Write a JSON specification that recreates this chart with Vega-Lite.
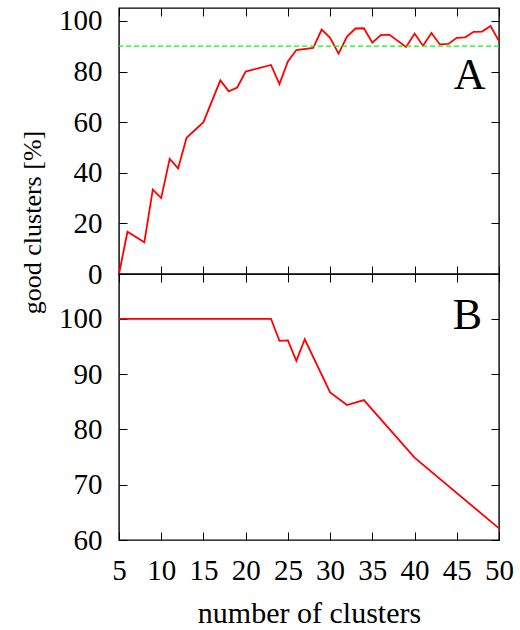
{
  "$schema": "https://vega.github.io/schema/vega-lite/v6.json",
  "background": "white",
  "padding": {"left": 18, "top": 6, "right": 5, "bottom": 0},
  "spacing": 0,
  "bounds": "flush",
  "config": {
    "view": {"stroke": "black", "strokeWidth": 1.4},
    "font": "Liberation Serif",
    "axis": {
      "domain": false,
      "grid": false,
      "tickColor": "black",
      "tickWidth": 1,
      "tickSize": -8,
      "labelFlush": false,
      "labelOverlap": false,
      "labelFont": "Liberation Serif",
      "labelFontSize": 29,
      "labelColor": "black",
      "titleFont": "Liberation Serif",
      "titleFontSize": 30,
      "titleFontWeight": "normal",
      "titleColor": "black"
    }
  },
  "vconcat": [
    {
      "width": 380,
      "height": 266,
      "data": {
        "values": [
          {"n": 5, "pct": 0}, {"n": 6, "pct": 16.7}, {"n": 8, "pct": 12.5},
          {"n": 9, "pct": 33.3}, {"n": 10, "pct": 30}, {"n": 11, "pct": 45.5},
          {"n": 12, "pct": 41.7}, {"n": 13, "pct": 53.8}, {"n": 15, "pct": 60},
          {"n": 17, "pct": 76.5}, {"n": 18, "pct": 72.2}, {"n": 19, "pct": 73.7},
          {"n": 20, "pct": 80}, {"n": 23, "pct": 82.6}, {"n": 24, "pct": 75},
          {"n": 25, "pct": 84}, {"n": 26, "pct": 88.5}, {"n": 28, "pct": 89.3},
          {"n": 29, "pct": 96.6}, {"n": 30, "pct": 93.3}, {"n": 31, "pct": 87.1},
          {"n": 32, "pct": 93.8}, {"n": 33, "pct": 97.0}, {"n": 34, "pct": 97.1},
          {"n": 35, "pct": 91.4}, {"n": 36, "pct": 94.4}, {"n": 37, "pct": 94.6},
          {"n": 39, "pct": 89.7}, {"n": 40, "pct": 95}, {"n": 41, "pct": 90.2},
          {"n": 42, "pct": 95.2}, {"n": 43, "pct": 90.7}, {"n": 44, "pct": 90.9},
          {"n": 45, "pct": 93.3}, {"n": 46, "pct": 93.5}, {"n": 47, "pct": 95.7},
          {"n": 48, "pct": 95.8}, {"n": 49, "pct": 98.0}, {"n": 50, "pct": 92}
        ]
      },
      "layer": [
        {
          "mark": {"type": "line", "color": "#ff0000", "strokeWidth": 1.8},
          "encoding": {
            "x": {
              "field": "n", "type": "quantitative",
              "scale": {"domain": [5, 50], "nice": false, "zero": false},
              "axis": {"orient": "bottom", "values": [5, 10, 15, 20, 25, 30, 35, 40, 45, 50], "labels": false, "title": null}
            },
            "y": {
              "field": "pct", "type": "quantitative",
              "scale": {"domain": [0, 105.1], "nice": false},
              "axis": {
                "orient": "left", "values": [0, 20, 40, 60, 80, 100], "labelPadding": 25,
                "title": "good clusters [%]", "titleFontSize": 26,
                "titleX": -79, "titleY": 214, "titleAngle": -90, "titleBaseline": "alphabetic", "titleAlign": "center"
              }
            }
          }
        },
        {
          "data": {"values": [{"level": 90}]},
          "mark": {"type": "rule", "color": "#00ff00", "strokeWidth": 1.2, "strokeDash": [5, 3]},
          "encoding": {"y": {"field": "level", "type": "quantitative", "axis": null}}
        },
        {
          "data": {"values": [{"panel": "A"}]},
          "mark": {"type": "text", "fontSize": 44, "align": "right", "baseline": "alphabetic", "font": "Liberation Serif", "color": "black"},
          "encoding": {
            "text": {"field": "panel"},
            "x": {"datum": 48.4, "type": "quantitative", "axis": {"orient": "top", "values": [5, 10, 15, 20, 25, 30, 35, 40, 45, 50], "labels": false, "title": null}},
            "y": {"datum": 73.1, "type": "quantitative", "axis": {"orient": "right", "values": [0, 20, 40, 60, 80, 100], "labels": false, "title": null}}
          }
        }
      ],
      "resolve": {"axis": {"x": "independent", "y": "independent"}}
    },
    {
      "width": 380,
      "height": 266,
      "data": {
        "values": [
          {"n": 5, "pct": 100}, {"n": 23, "pct": 100}, {"n": 24, "pct": 96.0},
          {"n": 25, "pct": 96.1}, {"n": 26, "pct": 92.4}, {"n": 27, "pct": 96.3},
          {"n": 30, "pct": 86.7}, {"n": 32, "pct": 84.4}, {"n": 34, "pct": 85.3},
          {"n": 40, "pct": 74.9}, {"n": 50, "pct": 62.1}
        ]
      },
      "layer": [
        {
          "mark": {"type": "line", "color": "#ff0000", "strokeWidth": 1.8},
          "encoding": {
            "x": {
              "field": "n", "type": "quantitative",
              "scale": {"domain": [5, 50], "nice": false, "zero": false},
              "axis": {
                "orient": "bottom", "values": [5, 10, 15, 20, 25, 30, 35, 40, 45, 50], "labelPadding": 24,
                "title": "number of clusters",
                "titleX": 190, "titleY": 82, "titleBaseline": "alphabetic"
              }
            },
            "y": {
              "field": "pct", "type": "quantitative",
              "scale": {"domain": [60, 108.1], "nice": false, "zero": false},
              "axis": {"orient": "left", "values": [60, 70, 80, 90, 100], "labelPadding": 25, "title": null}
            }
          }
        },
        {
          "data": {"values": [{"panel": "B"}]},
          "mark": {"type": "text", "fontSize": 44, "align": "right", "baseline": "alphabetic", "font": "Liberation Serif", "color": "black"},
          "encoding": {
            "text": {"field": "panel"},
            "x": {"datum": 48.0, "type": "quantitative", "axis": {"orient": "top", "values": [5, 10, 15, 20, 25, 30, 35, 40, 45, 50], "labels": false, "title": null}},
            "y": {"datum": 98.2, "type": "quantitative", "axis": {"orient": "right", "values": [60, 70, 80, 90, 100], "labels": false, "title": null}}
          }
        }
      ],
      "resolve": {"axis": {"x": "independent", "y": "independent"}}
    }
  ]
}
